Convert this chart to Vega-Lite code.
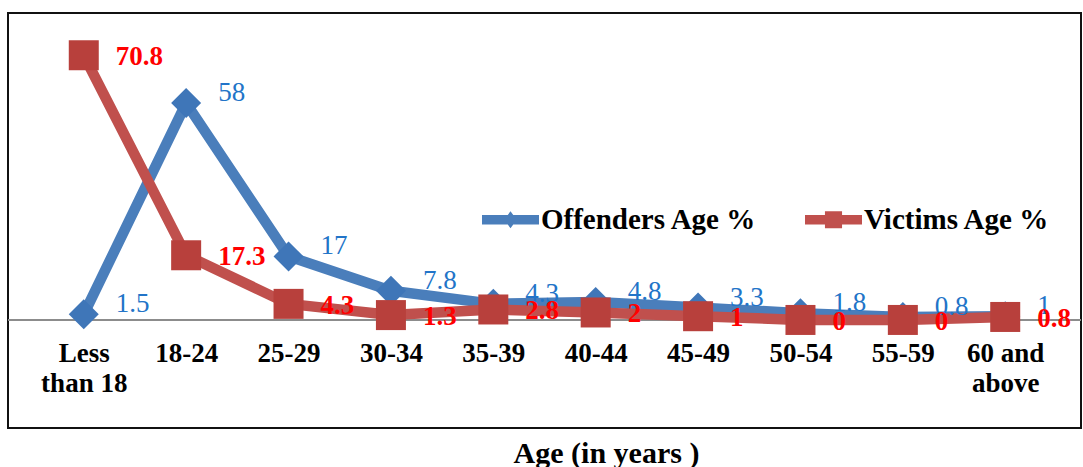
{
  "$schema": "https://vega.github.io/schema/vega-lite/v6.json",
  "width": 1073,
  "height": 415,
  "autosize": {"type": "none"},
  "padding": {"left": 8, "top": 13, "right": 2, "bottom": 39},
  "background": "white",
  "config": {
    "view": {"stroke": "#111111", "strokeWidth": 2},
    "font": "Times New Roman, Liberation Serif, serif"
  },
  "data": {
    "values": [
      {"age": "Less than 18", "series": "Offenders Age %", "value": 1.5},
      {"age": "18-24", "series": "Offenders Age %", "value": 58},
      {"age": "25-29", "series": "Offenders Age %", "value": 17},
      {"age": "30-34", "series": "Offenders Age %", "value": 7.8},
      {"age": "35-39", "series": "Offenders Age %", "value": 4.3},
      {"age": "40-44", "series": "Offenders Age %", "value": 4.8},
      {"age": "45-49", "series": "Offenders Age %", "value": 3.3},
      {"age": "50-54", "series": "Offenders Age %", "value": 1.8},
      {"age": "55-59", "series": "Offenders Age %", "value": 0.8},
      {"age": "60 and above", "series": "Offenders Age %", "value": 1},
      {"age": "Less than 18", "series": "Victims Age %", "value": 70.8},
      {"age": "18-24", "series": "Victims Age %", "value": 17.3},
      {"age": "25-29", "series": "Victims Age %", "value": 4.3},
      {"age": "30-34", "series": "Victims Age %", "value": 1.3},
      {"age": "35-39", "series": "Victims Age %", "value": 2.8},
      {"age": "40-44", "series": "Victims Age %", "value": 2},
      {"age": "45-49", "series": "Victims Age %", "value": 1},
      {"age": "50-54", "series": "Victims Age %", "value": 0},
      {"age": "55-59", "series": "Victims Age %", "value": 0},
      {"age": "60 and above", "series": "Victims Age %", "value": 0.8}
    ]
  },
  "encoding": {
    "x": {
      "field": "age",
      "type": "ordinal",
      "sort": null,
      "scale": {"type": "point", "padding": 0.74},
      "axis": {
        "orient": "bottom",
        "offset": -100,
        "domain": false,
        "ticks": false,
        "tickSize": 0,
        "labelAngle": 0,
        "labelPadding": 12,
        "labelFont": "Times New Roman, Liberation Serif, serif",
        "labelFontWeight": "bold",
        "labelFontSize": 27,
        "labelColor": "#000000",
        "labelLineHeight": 30,
        "labelExpr": "datum.label == 'Less than 18' ? ['Less', 'than 18'] : datum.label == '60 and above' ? ['60 and', 'above'] : datum.label",
        "title": "Age (in years )",
        "titleFont": "Times New Roman, Liberation Serif, serif",
        "titleFontWeight": "bold",
        "titleFontSize": 30,
        "titleColor": "#000000",
        "titleX": 598,
        "titleY": 110,
        "titleAlign": "center",
        "titleBaseline": "top"
      }
    },
    "y": {
      "field": "value",
      "type": "quantitative",
      "scale": {"domain": [-28.9, 82.1], "nice": false, "zero": false},
      "axis": null
    }
  },
  "layer": [
    {
      "mark": {"type": "rule", "color": "#8c8c8c", "strokeWidth": 1.5},
      "encoding": {"y": {"datum": 0}, "x": null}
    },
    {
      "transform": [{"filter": "datum.series === 'Offenders Age %'"}],
      "mark": {"type": "line", "strokeWidth": 10.5, "strokeJoin": "round"},
      "encoding": {
        "color": {
          "field": "series",
          "type": "nominal",
          "scale": {"domain": ["Offenders Age %", "Victims Age %"], "range": ["#4a7ebb", "#c0504d"]},
          "legend": {
            "orient": "none",
            "legendX": 474,
            "legendY": 178,
            "direction": "horizontal",
            "title": null,
            "padding": 0,
            "symbolSize": 3249,
            "symbolStrokeWidth": 0,
            "labelFont": "Times New Roman, Liberation Serif, serif",
            "labelFontWeight": "bold",
            "labelFontSize": 29,
            "labelColor": "#000000",
            "labelOffset": 2,
            "labelLimit": 400,
            "columnPadding": 48,
            "encode": {
              "symbols": {
                "update": {
                  "shape": {"signal": "datum.value === 'Offenders Age %' ? 'M-1,-0.17H1V0.17H-1Z M0,-0.3L0.22,0L0,0.3L-0.22,0Z' : 'M-1,-0.17H1V0.17H-1Z M-0.3,-0.3H0.3V0.3H-0.3Z'"},
                  "fill": {"signal": "datum.value === 'Offenders Age %' ? '#4a7ebb' : '#c0504d'"},
                  "stroke": {"value": "transparent"},
                  "strokeWidth": {"value": 0},
                  "opacity": {"value": 1}
                }
              }
            }
          }
        }
      }
    },
    {
      "transform": [{"filter": "datum.series === 'Offenders Age %'"}],
      "mark": {"type": "point", "shape": "diamond", "filled": true, "size": 900, "color": "#3f76b8", "opacity": 1}
    },
    {
      "transform": [{"filter": "datum.series === 'Victims Age %'"}],
      "mark": {"type": "line", "strokeWidth": 10.5, "strokeJoin": "round"},
      "encoding": {
        "color": {"field": "series", "type": "nominal"}
      }
    },
    {
      "transform": [{"filter": "datum.series === 'Victims Age %'"}],
      "mark": {"type": "point", "shape": "square", "filled": true, "size": 900, "color": "#b8403c", "opacity": 1}
    },
    {
      "transform": [{"filter": "datum.series === 'Offenders Age %'"}],
      "mark": {"type": "text", "align": "left", "baseline": "middle", "dx": 32, "dy": -10, "font": "Times New Roman, Liberation Serif, serif", "fontSize": 27, "color": "#2274c8"},
      "encoding": {"text": {"field": "value", "type": "quantitative"}}
    },
    {
      "transform": [{"filter": "datum.series === 'Victims Age %'"}],
      "mark": {"type": "text", "align": "left", "baseline": "middle", "dx": 32, "dy": 2, "font": "Times New Roman, Liberation Serif, serif", "fontSize": 27, "fontWeight": "bold", "color": "#ff0000"},
      "encoding": {"text": {"field": "value", "type": "quantitative"}}
    }
  ]
}
